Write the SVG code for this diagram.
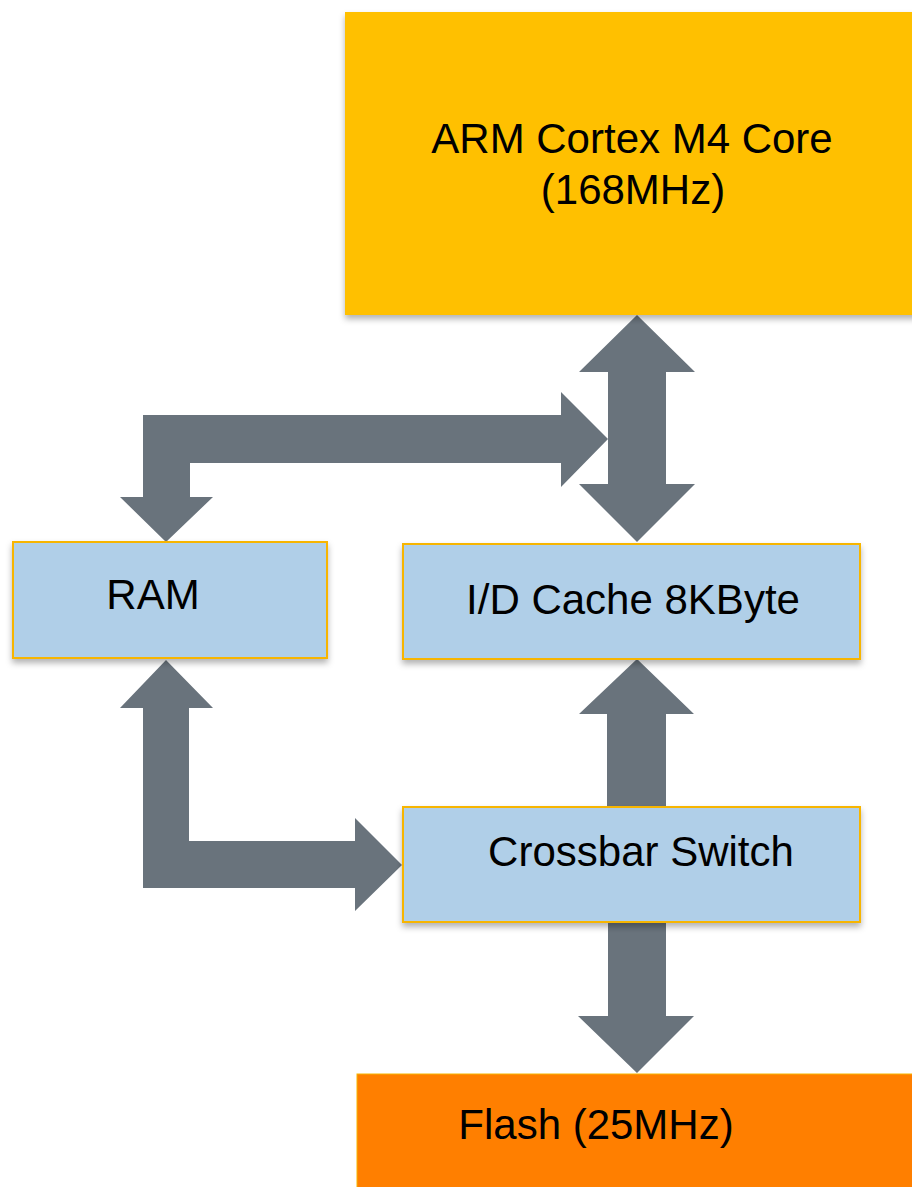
<svg xmlns="http://www.w3.org/2000/svg" width="912" height="1187" viewBox="0 0 912 1187">
<style>
.box{fill:#B0CFE8;stroke:#F7B500;stroke-width:2;filter:url(#sh)}
.lbl{font-family:"Liberation Sans",Arial,sans-serif;font-size:42px;fill:#000;text-anchor:middle}
.arr{fill:#69737C}
</style>
<defs>
<filter id="sh" x="-10%" y="-10%" width="120%" height="130%">
<feDropShadow dx="0" dy="4" stdDeviation="3" flood-color="#000" flood-opacity="0.3"/>
</filter>
</defs>
<rect width="912" height="1187" fill="#fff"/>
<g id="connectors">
<path class="arr" d="M637,315 L695,372 L666,372 L666,484 L695,484 L637,542 L579,484 L608,484 L608,372 L579,372 Z"/>
<path class="arr" d="M608,439 L561,392 L561,415 L143,415 L143,497 L120,497 L166,542 L213,497 L190,497 L190,463 L561,463 L561,487 Z"/>
<path class="arr" d="M166,660 L213,708 L189,708 L189,841 L355,841 L355,818 L402,865 L355,911 L355,888 L143,888 L143,708 L120,708 Z"/>
<path class="arr" d="M637,659 L694,714 L666,714 L666,807 L607,807 L607,714 L579,714 Z"/>
<path class="arr" d="M608,923 L666,923 L666,1016 L694,1016 L637,1073 L578,1016 L608,1016 Z"/>
</g>
<g id="arm">
<rect x="345" y="12" width="580" height="303" fill="#FFC000" filter="url(#sh)"/>
<text class="lbl" x="632" y="153">ARM Cortex M4 Core</text>
<text class="lbl" x="633" y="204">(168MHz)</text>
</g>
<g id="ram">
<rect class="box" x="13" y="542" width="314" height="116"/>
<text class="lbl" x="153" y="609">RAM</text>
</g>
<g id="cache">
<rect class="box" x="403" y="544" width="457" height="115"/>
<text class="lbl" x="633" y="614">I/D Cache 8KByte</text>
</g>
<g id="crossbar">
<rect class="box" x="403" y="807" width="457" height="115"/>
<text class="lbl" x="641" y="866">Crossbar Switch</text>
</g>
<g id="flash">
<rect x="357" y="1074" width="570" height="130" fill="#FF7F00" stroke="#F7B500" stroke-width="1"/>
<text class="lbl" x="596" y="1139">Flash (25MHz)</text>
</g>
</svg>
